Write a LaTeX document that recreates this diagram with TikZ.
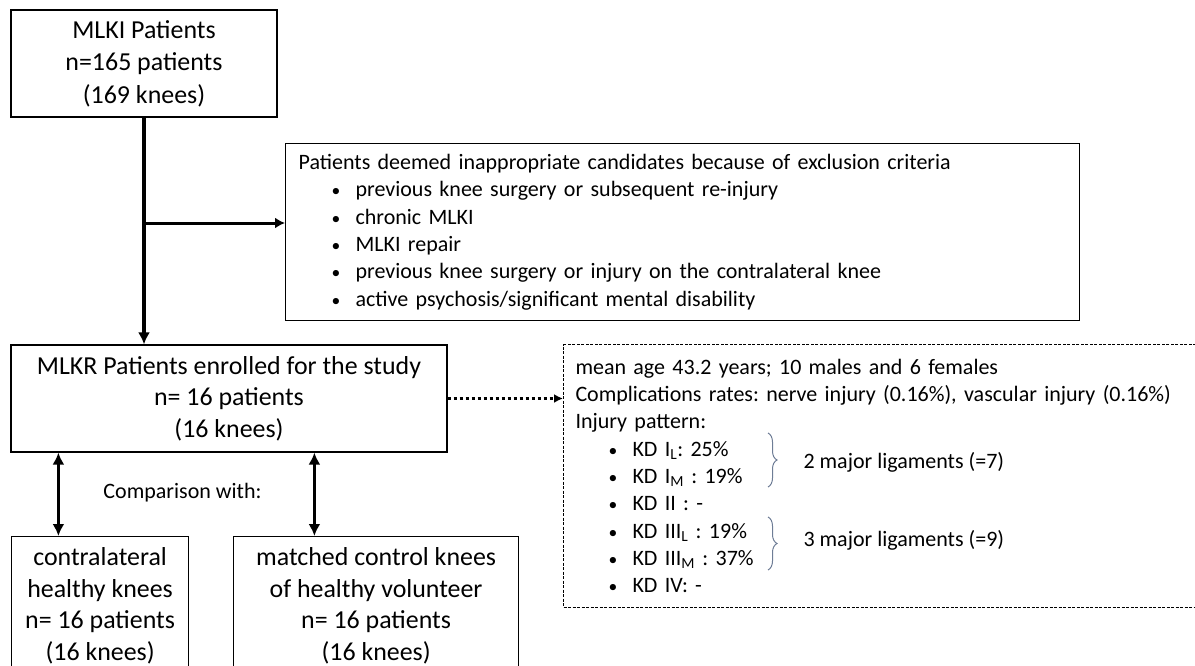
\documentclass[tikz,border=0pt]{standalone}
\usepackage{fontspec}
\setmainfont{Carlito}
\usepackage{tikz}
\usetikzlibrary{positioning, arrows.meta, decorations.pathreplacing}
\definecolor{bracegray}{RGB}{110,125,150}
\newcommand{\bigfont}{\fontsize{25.9}{31.5}\selectfont}
\newcommand{\smallfont}{\fontsize{22}{27.3}\selectfont}
\newcommand{\itm}[1]{\par\hspace*{33pt}\makebox[24pt][l]{\scalebox{0.8}{\textbullet}}#1}
\frenchspacing

\begin{document}
\begin{tikzpicture}[x=1pt, y=-1pt, >={Latex[length=12pt,width=12pt]},
        box/.style={draw, line width=1.2pt, inner sep=0pt, align=center, font=\bigfont},
        listbox/.style={draw, line width=1.2pt, inner xsep=12pt, inner ysep=0pt, align=left, font=\smallfont, anchor=north west},
        flow/.style={line width=3.5pt},
        lig/.style={decorate, decoration={brace, amplitude=9pt}, draw=bracegray, line width=1pt}]

        \useasboundingbox (0,0) rectangle (1195,666);

        % Nodes
        \node (mlki) [box, font=\fontsize{25.9}{32.5}\selectfont, minimum width=266pt, minimum height=107pt] at (144,63.5) {MLKI Patients\\n=165 patients\\(169 knees)};
        \node (excl) [listbox, inner xsep=13pt, minimum width=794pt, minimum height=177pt, text width=768pt] at (285,143) {Patients deemed inappropriate candidates because of exclusion criteria
            \itm{previous knee surgery or subsequent re-injury}
            \itm{chronic MLKI}
            \itm{MLKI repair}
            \itm{previous knee surgery or injury on the contralateral knee}
            \itm{active psychosis/significant mental disability}};
        \node (mlkr) [box, minimum width=436pt, minimum height=107pt] at (229,398.5) {MLKR Patients enrolled for the study\\n= 16 patients\\(16 knees)};
        \node (info) [listbox, line width=1pt, dash pattern=on 3pt off 1.5pt, minimum width=664pt, minimum height=263pt, text width=640pt] at (563,344) {mean age 43.2 years; 10 males and 6 females\par
            Complications rates: nerve injury (0.16\%), vascular injury (0.16\%)\par
            Injury pattern:
            \itm{KD I\textsubscript{L}: 25\%}
            \itm{KD I\textsubscript{M} : 19\%}
            \itm{KD II : -}
            \itm{KD III\textsubscript{L} : 19\%}
            \itm{KD III\textsubscript{M} : 37\%}
            \itm{KD IV: -}};
        \node (cl) [box, minimum width=177pt, minimum height=138pt, anchor=north west] at (11,536) {contralateral\\healthy knees\\n= 16 patients\\(16 knees)};
        \node (hv) [box, minimum width=285pt, minimum height=138pt, anchor=north west] at (233,536) {matched control knees\\of healthy volunteer\\n= 16 patients\\(16 knees)};
        \node (cmp) [font=\smallfont] at (182.5,493) {Comparison with:};

        % Braces
        \draw[lig] (768,433) -- (768,487);
        \draw[lig] (768,517) -- (768,570);
        \node (lig2) [font=\smallfont, anchor=west] at (800,462) {2 major ligaments (=7)};
        \node (lig3) [font=\smallfont, anchor=west] at (800,540) {3 major ligaments (=9)};

        % Arrows
        \coordinate (split) at (144,223);
        \draw[flow, ->] (mlki.south) -- (mlki.south |- mlkr.north);
        \draw[line width=3pt, -{Latex[length=10pt,width=11pt]}] (split) -- (split -| excl.west);
        \draw[flow, <->] ([xshift=48pt]mlkr.south west) -- ([xshift=48pt]mlkr.south west |- cl.north);
        \draw[flow, <->] ([xshift=304pt]mlkr.south west) -- ([xshift=304pt]mlkr.south west |- hv.north);
        \draw[line width=3pt, dash pattern=on 3pt off 3pt, -{Latex[length=9pt,width=9pt]}] (mlkr.east) -- (mlkr.east -| info.west);

    \end{tikzpicture}
\end{document}
